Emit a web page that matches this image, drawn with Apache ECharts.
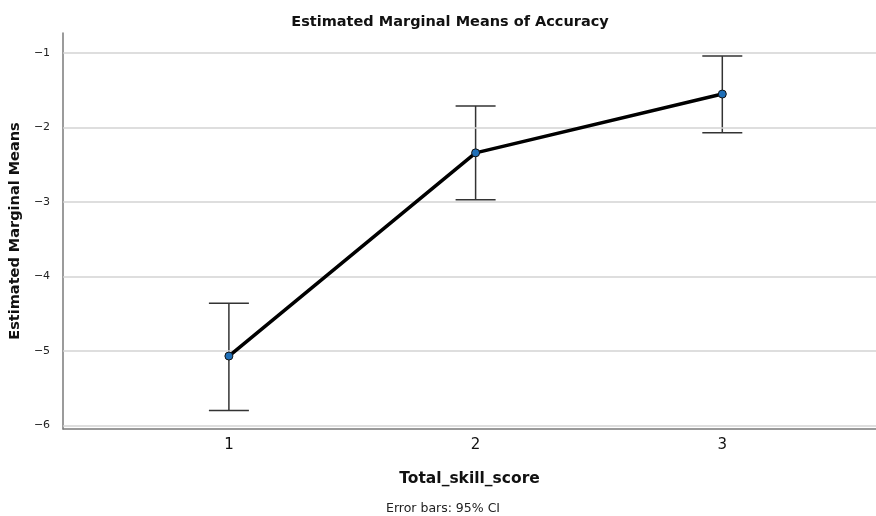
<!DOCTYPE html>
<html>
<head>
<meta charset="utf-8">
<script src="https://cdn.jsdelivr.net/npm/echarts@6/dist/echarts.min.js"></script>
<style>html,body{margin:0;padding:0;background:#fff;}#c{width:876px;height:516px;}</style>
</head>
<body>
<div id="c"></div>
<script>
const categories = [1, 2, 3];
const means = [-5.07, -2.34, -1.55];
const lower = [-5.80, -2.97, -2.07];
const upper = [-4.36, -1.71, -1.04];
const yTicks = [-6, -5, -4, -3, -2, -1];

const FONT = '"DejaVu Sans", sans-serif';
const chart = echarts.init(document.getElementById('c'), null, {renderer: 'canvas'});
const fmtMinus = v => String(v).replace('-', '\u2212');

chart.setOption({
  animation: false,
  backgroundColor: '#fff',
  title: {
    text: 'Estimated Marginal Means of Accuracy',
    left: 445, top: 10, textAlign: 'center',
    textStyle: {fontFamily: FONT, fontSize: 14.5, fontWeight: 'bold', color: '#111'}
  },
  grid: {left: 62, right: 0, top: 33, bottom: 87, containLabel: false},
  xAxis: {
    type: 'value', min: 0.328, max: 3.623,
    name: 'Total_skill_score', nameLocation: 'middle', nameGap: 42,
    nameTextStyle: {fontFamily: FONT, fontSize: 15.5, fontWeight: 'bold', color: '#111'},
    axisLine: {show: true, lineStyle: {color: '#7a7a7a', width: 1.5}},
    axisTick: {show: false},
    splitLine: {show: false},
    axisLabel: {
      fontFamily: FONT, fontSize: 15, color: '#111', margin: 9,
      formatter: v => categories.includes(v) ? String(v) : '',
      showMinLabel: false, showMaxLabel: false
    }
  },
  yAxis: {
    type: 'value', min: -6.05, max: -0.73,
    name: 'Estimated Marginal Means', nameLocation: 'middle', nameGap: 31, nameRotate: 90,
    nameTextStyle: {fontFamily: FONT, fontSize: 14.5, fontWeight: 'bold', color: '#111'},
    axisLine: {show: true, lineStyle: {color: '#7a7a7a', width: 1.5}},
    axisTick: {show: false},
    splitLine: {show: false},
    axisLabel: {
      fontFamily: FONT, fontSize: 11, color: '#222', margin: 13,
      formatter: v => yTicks.includes(v) ? fmtMinus(v) : '',
      showMinLabel: false, showMaxLabel: false
    }
  },
  graphic: [{
    type: 'text', left: 386, top: 502,
    style: {text: 'Error bars: 95% CI', font: '12.5px ' + FONT, fill: '#222'}
  }],
  series: [
    {
      type: 'line', data: [], silent: true,
      markLine: {
        symbol: 'none', silent: true, label: {show: false},
        lineStyle: {color: '#d3d3d3', width: 1.5, type: 'solid'},
        data: yTicks.map(v => ({yAxis: v}))
      },
      z: 1
    },
    {
      type: 'custom', z: 3,
      data: categories.map((c, i) => [c, lower[i], upper[i]]),
      renderItem: (params, api) => {
        const x = api.value(0);
        const lo = api.coord([x, api.value(1)]);
        const hi = api.coord([x, api.value(2)]);
        const hw = 20;
        const st = {stroke: '#333', lineWidth: 1.5};
        return {type: 'group', children: [
          {type: 'line', shape: {x1: lo[0], y1: lo[1], x2: hi[0], y2: hi[1]}, style: st},
          {type: 'line', shape: {x1: lo[0]-hw, y1: lo[1], x2: lo[0]+hw, y2: lo[1]}, style: st},
          {type: 'line', shape: {x1: hi[0]-hw, y1: hi[1], x2: hi[0]+hw, y2: hi[1]}, style: st}
        ]};
      }
    },
    {
      type: 'line', z: 5,
      data: categories.map((c, i) => [c, means[i]]),
      lineStyle: {color: '#000', width: 3.5},
      symbol: 'circle', symbolSize: 8,
      itemStyle: {color: '#1f6fb8', borderColor: '#111', borderWidth: 1}
    }
  ]
});
</script>
</body>
</html>
